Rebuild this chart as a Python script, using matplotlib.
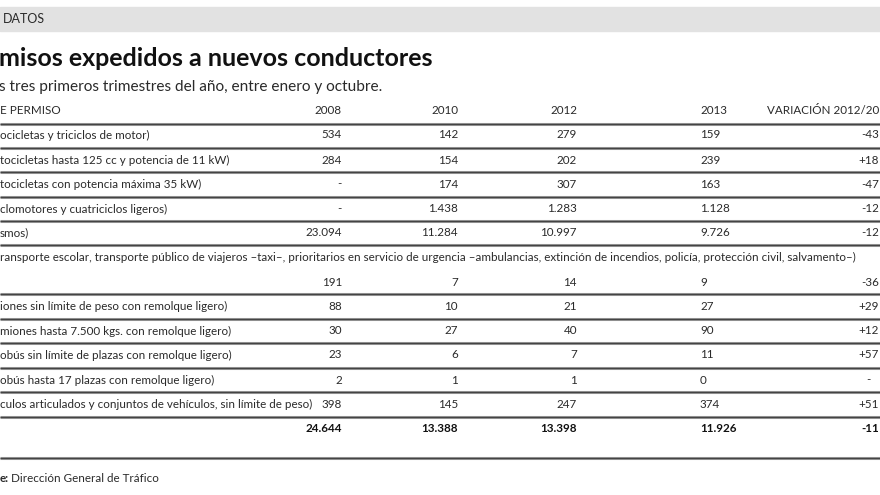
import matplotlib
matplotlib.use('Agg')
import matplotlib.pyplot as plt

# datos (texto visible, recortado en los bordes como en el original)
etiquetas = [
    'ocicletas y triciclos de motor)',
    'tocicletas hasta 125 cc y potencia de 11 kW)',
    'tocicletas con potencia máxima 35 kW)',
    'clomotores y cuatriciclos ligeros)',
    'smos)',
    '',
    'iones sin límite de peso con remolque ligero)',
    'miones hasta 7.500 kgs. con remolque ligero)',
    'obús sin límite de plazas con remolque ligero)',
    'obús hasta 17 plazas con remolque ligero)',
    'culos articulados y conjuntos de vehículos, sin límite de peso)',
]
v2008 = [534, 284, None, None, 23094, 191, 88, 30, 23, 2, 398]
v2010 = [142, 154, 174, 1438, 11284, 7, 10, 27, 6, 1, 145]
v2012 = [279, 202, 307, 1283, 10997, 14, 21, 40, 7, 1, 247]
v2013 = [159, 239, 163, 1128, 9726, 9, 27, 90, 11, 0, 374]
variacion = ['-43', '+18', '-47', '-12', '-12', '-36', '+29', '+12', '+57', '-', '+51']
totales = [24644, 13388, 13398, 11926]
var_total = '-11'
nota = ('ransporte escolar, transporte público de viajeros –taxi–, prioritarios en servicio de urgencia '
        '–ambulancias, extinción de incendios, policía, protección civil, salvamento–)')

def fmt(v):
    if v is None:
        return '-'
    return f'{v:,}'.replace(',', '.')

plt.rcParams['font.family'] = ['Lato', 'DejaVu Sans']
TXT = '#2a2a2a'

fig = plt.figure(figsize=(8.8, 4.95), dpi=100, facecolor='white')
ax = fig.add_axes([0, 0, 1, 1])
ax.set_xlim(0, 880)
ax.set_ylim(495, 0)
ax.axis('off')

# banda gris superior
ax.axhspan(7, 31, color='#e2e2e2', zorder=0)
ax.text(3, 19, 'DATOS', fontsize=9, color=TXT, va='center', ha='left')

# titulo y subtitulo
ax.text(-1, 58, 'misos expedidos a nuevos conductores', fontsize=18, fontweight='bold',
        color='#111111', va='center', ha='left')
ax.text(-1, 87, 's tres primeros trimestres del año, entre enero y octubre.', fontsize=11.1,
        color=TXT, va='center', ha='left')

# columnas
x08, x10, x12, x13, xvar = 342, 458, 577, 700, 879
fs = 8.4
y_head = 111
ax.text(0, y_head, 'E PERMISO', fontsize=fs, color=TXT, va='center')
ax.text(x08, y_head, '2008', fontsize=fs, color=TXT, va='center', ha='right')
ax.text(x10, y_head, '2010', fontsize=fs, color=TXT, va='center', ha='right')
ax.text(x12, y_head, '2012', fontsize=fs, color=TXT, va='center', ha='right')
ax.text(x13, y_head, '2013', fontsize=fs, color=TXT, va='center', ha='left')
ax.text(xvar, y_head, 'VARIACIÓN 2012/20', fontsize=fs, color=TXT, va='center', ha='right')

filas_y = [135, 160, 184, 209, 233, 282, 306, 331, 355, 380, 404]
for i, y in enumerate(filas_y):
    ax.text(0, y, etiquetas[i], fontsize=fs, color=TXT, va='center')
    ax.text(x08, y, fmt(v2008[i]), fontsize=fs, color=TXT, va='center', ha='right')
    ax.text(x10, y, fmt(v2010[i]), fontsize=fs, color=TXT, va='center', ha='right')
    ax.text(x12, y, fmt(v2012[i]), fontsize=fs, color=TXT, va='center', ha='right')
    ax.text(x13, y, fmt(v2013[i]), fontsize=fs, color=TXT, va='center', ha='left')
    if variacion[i] == '-':
        ax.text(866, y, variacion[i], fontsize=fs, color=TXT, va='center', ha='left')
    else:
        ax.text(xvar, y, variacion[i], fontsize=fs, color=TXT, va='center', ha='right')

ax.text(0, 257, nota, fontsize=fs, color=TXT, va='center')

# totales
y_tot = 429
for x, v, ha in zip([x08, x10, x12, x13], totales, ['right', 'right', 'right', 'left']):
    ax.text(x, y_tot, fmt(v), fontsize=fs, fontweight='bold', color='#111111', va='center', ha=ha)
ax.text(xvar, y_tot, var_total, fontsize=fs, fontweight='bold', color='#111111', va='center', ha='right')

# lineas
lineas = [124, 148, 172, 197, 221, 245, 294, 319, 343, 368, 392, 417, 458]
for y in lineas:
    ax.plot([0, 880], [y, y], color='#9a9a9a', linewidth=2.2, solid_capstyle='butt')
    ax.plot([0, 880], [y, y], color='#444444', linewidth=0.9, solid_capstyle='butt')

# fuente
ax.text(0, 478, 'e:', fontsize=fs, fontweight='bold', color=TXT, va='center')
ax.text(11, 478, 'Dirección General de Tráfico', fontsize=fs, color=TXT, va='center')

fig.savefig('out.png', dpi=100, facecolor='white')
